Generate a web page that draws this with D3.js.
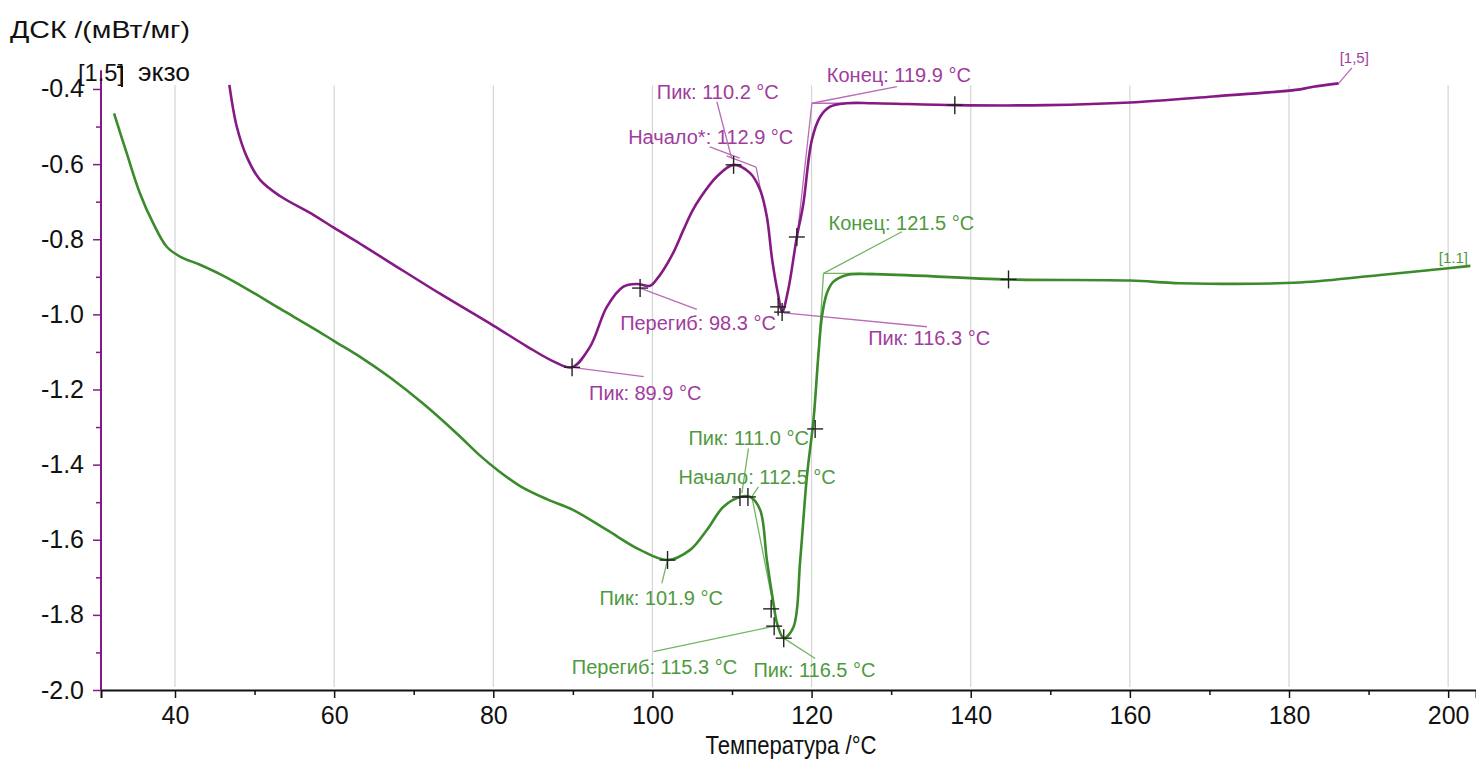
<!DOCTYPE html>
<html><head><meta charset="utf-8">
<script src="https://cdn.jsdelivr.net/npm/d3@7/dist/d3.min.js"></script>
<style>
html,body{margin:0;padding:0;background:#fff;}
svg{display:block;font-family:"Liberation Sans",Arial,sans-serif;}
</style></head>
<body>
<svg id="c" width="1476" height="767"></svg>
<script>
// ---- data ----
const xTicks = [40, 60, 80, 100, 120, 140, 160, 180, 200];
const xMinor = [50, 70, 90, 110, 130, 150, 170, 190];
const yTicks = [-0.4, -0.6, -0.8, -1.0, -1.2, -1.4, -1.6, -1.8, -2.0];
const yMinor = [-0.5, -0.7, -0.9, -1.1, -1.3, -1.5, -1.7, -1.9];

const purpleT = [46.83,47.76,49.01,50.69,53.20,57.39,60.0,63.26,67.03,73.31,80.01,84.21,87.55,89.87,92.17,94.27,96.35,98.04,99.71,100.6,101.38,102.64,103.90,105.0,106.00,108.10,110.2,112.28,113.54,114.38,115.05,115.80,116.3,117.06,118.15,118.94,120.03,121.08,122.33,124.43,127.74,138.18,149.58,160.05,170.48,181.42,183.06,186.24];
const purpleV = [-0.389,-0.500,-0.580,-0.642,-0.685,-0.735,-0.770,-0.812,-0.862,-0.945,-1.030,-1.085,-1.125,-1.141,-1.086,-0.980,-0.926,-0.919,-0.924,-0.905,-0.882,-0.835,-0.775,-0.725,-0.690,-0.633,-0.602,-0.624,-0.669,-0.740,-0.855,-0.948,-0.994,-0.935,-0.794,-0.709,-0.536,-0.474,-0.447,-0.438,-0.438,-0.443,-0.443,-0.436,-0.420,-0.401,-0.394,-0.385];

const greenT = [32.34,33.93,35.60,37.27,38.96,40.63,43.14,45.66,49.01,53.20,57.39,60.0,63.26,67.03,71.21,75.41,78.34,80.44,83.37,86.73,90.07,94.27,98.45,101.9,104.74,106.84,108.93,111.0,112.28,113.54,114.38,115.21,115.68,116.5,117.73,118.57,119.41,120.24,120.87,121.30,121.92,122.75,124.44,127.78,144.75,160.05,166.34,181.42,191.48,197.76,202.79];
const greenV = [-0.465,-0.571,-0.678,-0.758,-0.820,-0.846,-0.868,-0.893,-0.932,-0.985,-1.037,-1.071,-1.113,-1.168,-1.238,-1.317,-1.376,-1.413,-1.457,-1.492,-1.521,-1.574,-1.627,-1.654,-1.627,-1.574,-1.512,-1.486,-1.486,-1.521,-1.654,-1.769,-1.824,-1.862,-1.832,-1.654,-1.432,-1.281,-1.104,-1.006,-0.944,-0.913,-0.895,-0.893,-0.907,-0.910,-0.917,-0.915,-0.895,-0.882,-0.871];

// cross markers [T, value]
const purpleMarks = [[89.9,-1.141],[98.45,-0.93],[110.2,-0.602],[115.8,-0.98],[116.3,-0.994],[118.15,-0.794],[138.0,-0.443]];
const greenMarks = [[101.9,-1.654],[111.0,-1.486],[112.0,-1.486],[114.92,-1.784],[115.3,-1.83],[116.5,-1.862],[120.45,-1.305],[144.75,-0.907]];

// annotations: text, leader line [T1,V1,T2,V2], label anchor [T,V]
const purpleNotes = [
  {text:"Пик: 89.9 °C",   line:[89.9,-1.141,98.9,-1.166],   at:[92.04,-1.209]},
  {text:"Перегиб: 98.3 °C", line:[98.45,-0.93,105.58,-0.987], at:[95.94,-1.023]},
  {text:"Пик: 116.3 °C",  line:[116.5,-0.996,134.49,-1.033], at:[127.11,-1.063]},
  {text:"Пик: 110.2 °C",  line:[108.10,-0.434,109.96,-0.585], at:[100.55,-0.407]},
  {text:"Начало*: 112.9 °C", line:[107.2,-0.554,110.97,-0.584], at:[96.95,-0.527]},
  {text:"Конец: 119.9 °C", line:[130.72,-0.394,120.04,-0.438], at:[121.92,-0.363]}
];
const purpleTangents = [[109.33,-0.578,113.03,-0.608],[113.03,-0.608,113.85,-0.695],[120.04,-0.438,127.74,-0.438],[120.04,-0.438,118.18,-0.794]];
const greenNotes = [
  {text:"Пик: 101.9 °C",  line:[101.9,-1.654,101.18,-1.716], at:[93.34,-1.756]},
  {text:"Пик: 111.0 °C",  line:[111.24,-1.476,112.07,-1.357], at:[104.53,-1.330]},
  {text:"Начало: 112.5 °C", line:[112.5,-1.485,113.33,-1.459], at:[103.27,-1.432]},
  {text:"Перегиб: 115.3 °C", line:[115.3,-1.83,100.13,-1.898], at:[89.87,-1.938]},
  {text:"Пик: 116.5 °C",  line:[116.5,-1.862,120.45,-1.916], at:[112.7,-1.947]},
  {text:"Конец: 121.5 °C", line:[131.35,-0.780,121.5,-0.891], at:[122.13,-0.758]}
];
const greenTangents = [[110.8,-1.486,112.5,-1.486],[112.5,-1.486,115.68,-1.827],[121.5,-0.891,127.78,-0.891],[121.5,-0.891,120.2,-1.308]];

// ---- chart ----
const svg = d3.select("#c");
const x = d3.scaleLinear().domain([30.7, 203.5]).range([101, 1476]);
const y = d3.scaleLinear().domain([-2.0, -0.35]).range([690, 70.2]);
const FONT = "Liberation Sans, Arial, sans-serif";

const PURPLE = "#861a84", PURPLE_T = "#a03c9e", PURPLE_L = "#b96cb7";
const GREEN = "#3b8a2c", GREEN_T = "#4e9a3e", GREEN_L = "#74b466";

// grid
svg.append("g").selectAll("line").data(xTicks).join("line")
  .attr("x1", d => x(d)).attr("x2", d => x(d))
  .attr("y1", y(-0.39)).attr("y2", y(-1.992))
  .attr("stroke", "#d4d4d4").attr("stroke-width", 1.2);

// x axis
const xAxis = svg.append("g").attr("transform", `translate(0,${y(-2.0)})`)
  .call(d3.axisBottom(x).tickValues(xTicks).tickSize(8).tickPadding(8).tickFormat(d => String(d)));
xAxis.select(".domain").attr("stroke", "#111").attr("stroke-width", 2);
xAxis.selectAll(".tick line").attr("stroke", "#111").attr("stroke-width", 1.5);
xAxis.selectAll(".tick text").attr("font-size", 25).attr("fill", "#111").attr("font-family", FONT);
svg.append("g").attr("transform", `translate(0,${y(-2.0)})`)
  .call(d3.axisBottom(x).tickValues(xMinor).tickSize(5).tickFormat(""))
  .call(g => g.select(".domain").remove())
  .selectAll(".tick line").attr("stroke", "#111").attr("stroke-width", 1.5);

// y axis
const yAxis = svg.append("g").attr("transform", `translate(${x(30.7)},0)`)
  .call(d3.axisLeft(y).tickValues(yTicks).tickSize(8).tickPadding(9).tickFormat(d => d.toFixed(1)));
yAxis.select(".domain").attr("stroke", PURPLE).attr("stroke-width", 2).attr("d", `M0,${y(-0.35)}V${y(-2.0)}`);
yAxis.selectAll(".tick line").attr("stroke", PURPLE).attr("stroke-width", 1.5);
yAxis.selectAll(".tick text").attr("font-size", 25).attr("fill", "#111").attr("font-family", FONT);
svg.append("g").attr("transform", `translate(${x(30.7)},0)`)
  .call(d3.axisLeft(y).tickValues(yMinor).tickSize(5).tickFormat(""))
  .call(g => g.select(".domain").remove())
  .selectAll(".tick line").attr("stroke", PURPLE).attr("stroke-width", 1.5);

// titles
svg.append("text").attr("x", 10).attr("y", 38).attr("font-size", 24).attr("fill", "#111")
  .attr("textLength", 180).attr("lengthAdjust", "spacingAndGlyphs").text("ДСК /(мВт/мг)");
svg.append("text").attr("x", 78).attr("y", 81).attr("font-size", 24).attr("fill", "#111")
  .attr("textLength", 46).attr("lengthAdjust", "spacingAndGlyphs").text("[1.5]");
svg.append("text").attr("x", 138).attr("y", 81).attr("font-size", 25).attr("fill", "#111")
  .attr("textLength", 52).attr("lengthAdjust", "spacingAndGlyphs").text("экзо");
svg.append("path").attr("d", "M117,67H122V87").attr("fill", "none").attr("stroke", "#111").attr("stroke-width", 2);
svg.append("text").attr("x", 791).attr("y", 754).attr("text-anchor", "middle").attr("font-size", 25).attr("fill", "#111")
  .attr("textLength", 171).attr("lengthAdjust", "spacingAndGlyphs").text("Температура /°C");

// tangents & leader lines
function drawLines(arr, color) {
  svg.append("g").selectAll("line").data(arr).join("line")
    .attr("x1", d => x(d[0])).attr("y1", d => y(d[1]))
    .attr("x2", d => x(d[2])).attr("y2", d => y(d[3]))
    .attr("stroke", color).attr("stroke-width", 1.3);
}
drawLines(purpleTangents, PURPLE_L);
drawLines(greenTangents, GREEN_L);
drawLines(purpleNotes.map(n => n.line), PURPLE_L);
drawLines(greenNotes.map(n => n.line), GREEN_L);

// curves
const line = d3.line().x(d => x(d[0])).y(d => y(d[1])).curve(d3.curveCatmullRom.alpha(0.5));
svg.append("path").datum(purpleT.map((t, i) => [t, purpleV[i]]))
  .attr("d", line).attr("fill", "none").attr("stroke", PURPLE).attr("stroke-width", 2.6);
svg.append("path").datum(greenT.map((t, i) => [t, greenV[i]]))
  .attr("d", line).attr("fill", "none").attr("stroke", GREEN).attr("stroke-width", 2.6);

// markers
function drawMarks(arr) {
  const g = svg.append("g").attr("stroke", "#222").attr("stroke-width", 1.4);
  arr.forEach(d => {
    const cx = x(d[0]), cy = y(d[1]);
    g.append("line").attr("x1", cx - 8).attr("x2", cx + 8).attr("y1", cy).attr("y2", cy);
    g.append("line").attr("x1", cx).attr("x2", cx).attr("y1", cy - 9).attr("y2", cy + 9);
  });
}
drawMarks(purpleMarks);
drawMarks(greenMarks);

// labels
function drawNotes(arr, color) {
  svg.append("g").selectAll("text").data(arr).join("text")
    .attr("x", d => x(d.at[0])).attr("y", d => y(d.at[1]))
    .attr("dy", "0.35em").attr("font-size", 20).attr("fill", color).text(d => d.text);
}
drawNotes(purpleNotes, PURPLE_T);
drawNotes(greenNotes, GREEN_T);

// curve end tags
svg.append("line").attr("x1", x(186.24)).attr("y1", y(-0.385)).attr("x2", x(187.9)).attr("y2", y(-0.344))
  .attr("stroke", PURPLE_L).attr("stroke-width", 1.3);
svg.append("text").attr("x", x(188.2)).attr("y", y(-0.318)).attr("dy", "0.35em").attr("text-anchor", "middle")
  .attr("font-size", 15).attr("fill", PURPLE_T).text("[1,5]");
svg.append("text").attr("x", x(200.65)).attr("y", y(-0.85)).attr("dy", "0.35em").attr("text-anchor", "middle")
  .attr("font-size", 15).attr("fill", GREEN_T).text("[1.1]");
</script>
</body></html>
